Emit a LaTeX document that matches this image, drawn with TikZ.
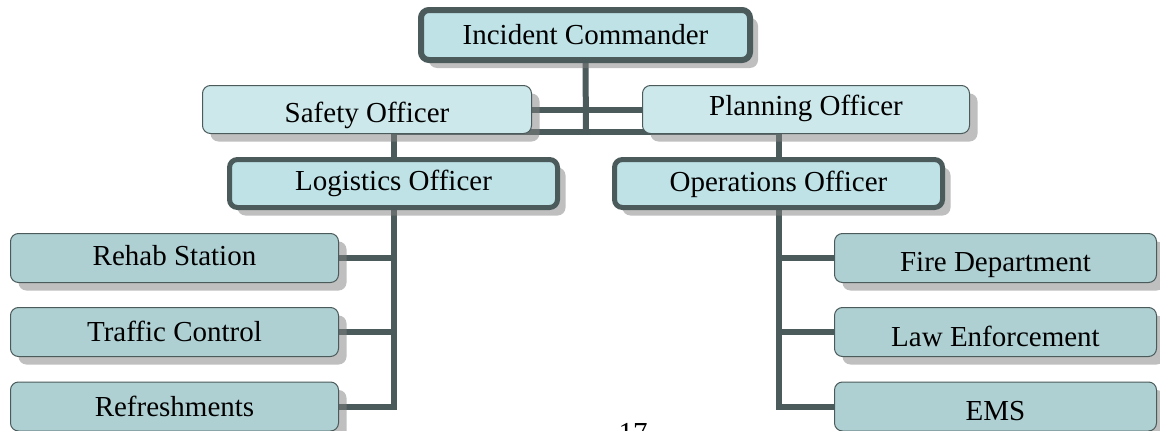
\documentclass[tikz,border=0pt]{standalone}
\usepackage{fontspec}
\setmainfont{Liberation Serif}
\usetikzlibrary{shadows}
\pgfdeclarelayer{paper}
\pgfdeclarelayer{back}
\pgfsetlayers{paper,back,main}
\definecolor{linec}{HTML}{4B5A5A}
\definecolor{topfill}{HTML}{CDE8EA}
\definecolor{keyfill}{HTML}{BEE2E6}
\definecolor{kidfill}{HTML}{AFD0D3}
\tikzset{
  box/.style={rectangle, rounded corners=8pt, inner sep=0pt, align=center,
    font=\fontsize{29}{34}\selectfont,
    drop shadow={shadow xshift=8pt, shadow yshift=-8pt, fill=gray, opacity=0.5}},
  bl/.code={\pgfmathsetmacro\myth{15+#1}\pgfmathsetmacro\mytd{15-#1}%
    \tikzset{text height=\myth pt, text depth=\mytd pt}},
  assist/.style={box, draw=linec, line width=1pt, fill=topfill,
    minimum width=329pt, minimum height=48pt},
  keybox/.style={box, draw=linec, line width=5pt, fill=keyfill,
    minimum width=328pt, minimum height=48pt},
  kid/.style={box, draw=linec, line width=1pt, fill=kidfill,
    minimum height=49pt},
  conn/.style={draw=linec, line width=6pt}
}
\begin{document}
\begin{tikzpicture}[x=1pt,y=-1pt]
\useasboundingbox (0,0) rectangle (1160,431);
\begin{pgfonlayer}{paper}
\fill[white] (0,0) rectangle (1160,431);
\end{pgfonlayer}
\node[keybox, line width=6pt, minimum width=329pt, minimum height=50pt, bl=9.7] (ic) at (585.5,35) {Incident Commander};
\node[assist, bl=12.5] (safety) at (367,109.5) {Safety Officer};
\node[assist, minimum width=327pt, bl=5.5] (planning) at (806,109.5) {Planning Officer};
\node[keybox, bl=7] (logistics) at (393.5,183.5) {Logistics Officer};
\node[keybox, bl=8] (operations) at (778.5,183.5) {Operations Officer};
\node[kid, minimum width=328pt, bl=7] (rehab) at (174.5,258) {Rehab Station};
\node[kid, minimum width=328pt, bl=9.7] (traffic) at (174.5,332) {Traffic Control};
\node[kid, minimum width=328pt, bl=10] (refresh) at (174.5,406.5) {Refreshments};
\node[kid, minimum width=322pt, bl=13.7] (fire) at (995.5,258) {Fire Department};
\node[kid, minimum width=322pt, bl=14] (law) at (995.5,332) {Law Enforcement};
\node[kid, minimum width=322pt, bl=13.5] (ems) at (995.5,406.5) {EMS};
\node[anchor=base, font=\fontsize{29}{34}\selectfont, inner sep=0pt] (pagenum) at (633,442) {17};
\coordinate (j) at (586,132);
\begin{pgfonlayer}{back}
\draw[conn] (ic.south) -- (j);
\draw[conn] (safety.east) -- (planning.west);
\draw[conn] (logistics.north) |- (j) -| (operations.north);
\draw[conn] (logistics.south) |- (refresh.east);
\draw[conn] (rehab.east) -- (rehab.east -| logistics.south);
\draw[conn] (traffic.east) -- (traffic.east -| logistics.south);
\draw[conn] (operations.south) |- (ems.west);
\draw[conn] (fire.west) -- (fire.west -| operations.south);
\draw[conn] (law.west) -- (law.west -| operations.south);
\end{pgfonlayer}
\end{tikzpicture}
\end{document}
